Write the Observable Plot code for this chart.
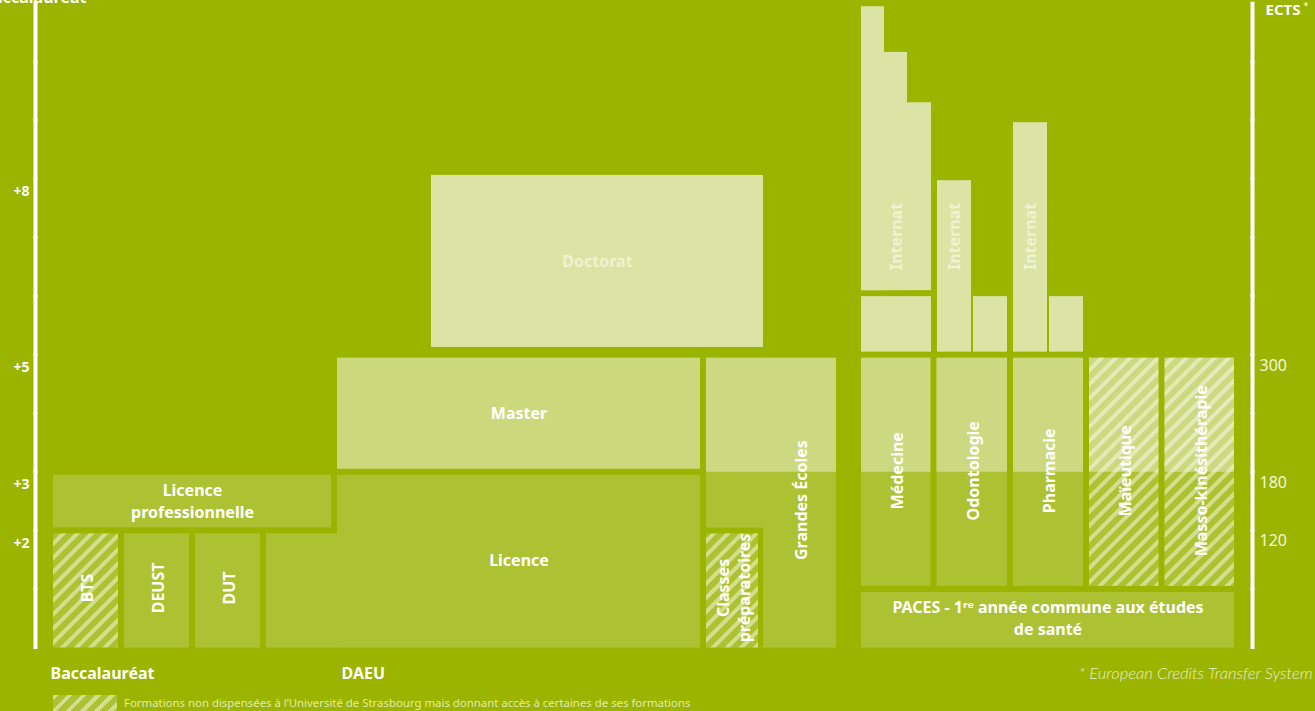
<!DOCTYPE html>
<html>
<head>
<meta charset="utf-8">
<script src="https://cdn.jsdelivr.net/npm/d3@7"></script>
<script src="https://cdn.jsdelivr.net/npm/@observablehq/plot@0.6"></script>
<style>
  html, body { margin: 0; padding: 0; }
  body { background: #9ab400; width: 1315px; height: 711px; overflow: hidden; position: relative; font-family: "Noto Sans", sans-serif; }
  #chart svg { display: block; }
  #legend { position: absolute; left: 53px; top: 695px; display: flex; align-items: center; gap: 7px; color: #e3ebb2; font-size: 11.4px; line-height: 16px; }
  #legend .swatch { width: 64px; height: 16px; flex: none; background: repeating-linear-gradient(135deg, #d3df8c 0 4px, #adc232 4px 10px); }
</style>
</head>
<body>
<div id="chart"></div>
<div id="legend"><span class="swatch"></span><span id="legend-text"></span></div>
<script>
// ---------------- data ----------------
// vertical scale: years after the baccalauréat; horizontal: layout units across the diagram
const yearSteps = [0, 1, 2, 3, 4, 5, 6, 7, 8, 9, 10];
const bacTicks = [8, 5, 3, 2];
const bacTickLabels = ["+8", "+5", "+3", "+2"];
const ectsTicks = [5, 3, 2];
const ectsTickLabels = ["300", "180", "120"];

// formations (boxes)
const formation = ["BTS", "DEUST", "DUT", "Licence", "Licence", "Licence\nprofessionnelle", "Master", "Doctorat",
  "Grandes Écoles", "PACES - 1ʳᵉ année commune aux études\nde santé", "Médecine", "Odontologie", "Pharmacie", "Maïeutique", "Masso-kinésithérapie"];
const fromX    = [1.5, 8.6, 15.7, 22.8, 29.9, 1.5, 29.9, 39.3, 66.8, 82.3, 82.3, 89.85, 97.5, 105.1, 112.65];
const toX      = [8.6, 15.7, 22.8, 66.8, 66.8, 29.9, 66.8, 73.1, 80.4, 120.2, 89.85, 97.5, 105.1, 112.65, 120.2];
const fromYear = [0, 0, 0, 0, 0, 2, 3, 5.08, 0, 0, 1, 1, 1, 1, 1];
const toYear   = [2, 2, 2, 2, 3, 3, 5, 8.12, 5, 1, 5, 5, 5, 5, 5];
const cycle    = ["L", "L", "L", "L", "L", "L", "M", "D", "L", "L", "L", "L", "L", "L", "L"];
const external = [true, false, false, false, false, false, false, false, false, false, false, false, false, true, true];

// classes préparatoires (inside Grandes Écoles)
const prepaName = "Classes\npréparatoires";
const prepaX = [66.8, 72.6];
const prepaYears = [0, 2];

// health studies: internat and 6th-year boxes
const internatOf   = ["Médecine", "Médecine", "Médecine", "Odontologie", "Pharmacie"];
const internatX1   = [82.3, 82.3, 82.3, 89.9, 97.5];
const internatX2   = [89.7, 87.3, 85.0, 93.7, 101.3];
const internatFrom = [6.05, 6.05, 6.05, 5, 5];
const internatTo   = [9.36, 10.22, 11.0, 8.03, 9.02];
const sixthOf   = ["Médecine", "Odontologie", "Pharmacie"];
const sixthX1   = [82.5, 93.7, 101.3];
const sixthX2   = [89.9, 97.5, 105.1];
const sixthFrom = [5, 5, 5];
const sixthTo   = [6.05, 6.05, 6.05];
const internatLabelYear = 7;

const masterStart = 3;
const entryLabels = ["Baccalauréat", "DAEU"];
const entryX = [1.5, 30.6];
const footnote = "* European Credits Transfer System";
const legendText = "Formations non dispensées à l’Université de Strasbourg mais donnant accès à certaines de ses formations";

// ---------------- styles ----------------
const bg = "#9ab400";
const tone = {L: "#adc232", M: "#cbd97c", D: "#dbe4a5"};
const paleText = "#eef3d2";
const hatch = "url(#hatch)";

const boxes = formation.map((name, i) => ({name, x1: fromX[i], x2: toX[i], y1: fromYear[i], y2: toYear[i], cycle: cycle[i], external: external[i]}));
const prepa = {name: prepaName, x1: prepaX[0], x2: prepaX[1], y1: prepaYears[0], y2: prepaYears[1]};
const internat = internatOf.map((f, i) => ({f, x1: internatX1[i], x2: internatX2[i], y1: internatFrom[i], y2: internatTo[i]}));
const sixth = sixthOf.map((f, i) => ({f, x1: sixthX1[i], x2: sixthX2[i], y1: sixthFrom[i], y2: sixthTo[i]}));

const boxFill = d => d.external ? hatch : tone[d.cycle];
const isLast = (d, i, arr) => arr.findLastIndex(e => e.name === d.name) === i;
const ge = boxes.find(d => d.name === "Grandes Écoles");

const labels = boxes.filter(isLast).map(d => ({
  text: d.name,
  x: d === ge ? (prepa.x2 + d.x2) / 2 : (d.x1 + d.x2) / 2,
  y: (d.y1 + d.y2) / 2,
  rotate: (d.x2 - d.x1) < 15 ? -90 : 0,
  fill: d.cycle === "D" ? paleText : "white"
}));
labels.push({text: prepa.name, x: (prepa.x1 + prepa.x2) / 2, y: (prepa.y1 + prepa.y2) / 2, rotate: -90, fill: "white"});
const internatLabels = internatOf.filter((f, i, a) => a.indexOf(f) === i).map(f => {
  const d = internat.find(e => e.f === f);
  return {text: "Internat", x: (d.x1 + d.x2) / 2, y: internatLabelYear, rotate: -90, fill: paleText};
});
const allLabels = labels.concat(internatLabels);

const font = "'Noto Sans', sans-serif";

const chart = Plot.plot({
  width: 1315,
  height: 690,
  marginLeft: 35,
  marginRight: 63,
  marginTop: 3.2,
  marginBottom: 42.5,
  x: {domain: [0, 121.7], axis: null},
  y: {domain: [0, 11], axis: null},
  color: {type: "identity"},
  style: {background: "transparent", fontFamily: font, overflow: "visible"},
  marks: [
    // axes lines, segmented per year
    Plot.ruleX(yearSteps, {x: 0, y1: d => d, y2: d => d + 1, stroke: "white", strokeWidth: 4, insetTop: 1.5, insetBottom: 1.5}),
    Plot.ruleX(yearSteps, {x: 121.7, y1: d => d, y2: d => d + 1, stroke: "white", strokeWidth: 4, insetTop: 1.5, insetBottom: 1.5}),
    Plot.text(bacTicks, {x: 0, y: d => d, text: (d, i) => bacTickLabels[i], textAnchor: "end", dx: -6, dy: 12.5, fill: "white", fontWeight: 700, fontSize: 14}),
    Plot.text(ectsTicks, {x: 121.7, y: d => d, text: (d, i) => ectsTickLabels[i], textAnchor: "start", dx: 7, dy: 10.5, fill: "#f3f7dd", fontSize: 16}),
    Plot.text(["ECTS"], {frameAnchor: "top-right", dx: 13, dy: 1, textAnchor: "start", lineAnchor: "top", fill: "white", fontWeight: 700, fontSize: 15}),
    Plot.text(["*"], {frameAnchor: "top-right", dx: 51, dy: -1, textAnchor: "start", lineAnchor: "top", fill: "white", fontSize: 9}),
    Plot.text(["Baccalauréat"], {frameAnchor: "top-left", dx: 51, dy: -0.5, textAnchor: "end", lineAnchor: "bottom", fill: "white", fontWeight: 700, fontSize: 16}),
    // boxes
    Plot.rect(boxes, {filter: d => d.y1 === 0, x1: "x1", x2: "x2", y1: "y1", y2: "y2", fill: boxFill, inset: 3, insetBottom: 0}),
    Plot.rect(boxes, {filter: d => d.y1 > 0, x1: "x1", x2: "x2", y1: "y1", y2: "y2", fill: boxFill, inset: 3}),
    // master-level part of long programmes
    Plot.rect(boxes, {filter: d => d.cycle === "L" && d.y1 < masterStart && d.y2 > masterStart, x1: "x1", x2: "x2", y1: masterStart, y2: "y2", fill: "white", fillOpacity: 0.38, inset: 3, insetBottom: 0}),
    // classes préparatoires inside Grandes Écoles
    Plot.rect([prepa], {x1: "x1", x2: d => d.x2 + 0.5, y1: "y1", y2: d => d.y2 + 0.1, fill: bg, inset: 3, insetBottom: 0}),
    Plot.rect([prepa], {x1: "x1", x2: "x2", y1: "y1", y2: "y2", fill: hatch, inset: 3, insetBottom: 0}),
    // health: internat & 6th year
    Plot.rect(internat, {x1: "x1", x2: "x2", y1: "y1", y2: "y2", fill: tone.D, insetLeft: 3, insetRight: 1, insetTop: 3, insetBottom: 3}),
    Plot.rect(sixth, {x1: "x1", x2: "x2", y1: "y1", y2: "y2", fill: tone.D, insetLeft: 1, insetRight: 3, insetTop: 3, insetBottom: 3}),
    // labels
    Plot.text(allLabels, {x: "x", y: "y", text: "text", rotate: "rotate", fill: "fill", fontWeight: 700, fontSize: 16, lineHeight: 1.35, dy: -1.5}),
    Plot.text(entryLabels, {x: (d, i) => entryX[i], frameAnchor: "bottom", dy: 31, text: d => d, textAnchor: "start", fill: "white", fontWeight: 700, fontSize: 16}),
    Plot.text([footnote], {frameAnchor: "bottom-right", dx: 60, dy: 31, textAnchor: "end", fill: "#eaf0c6", fontStyle: "italic", fontWeight: 300, fontSize: 16.5, fontFamily: "Lato, sans-serif"})
  ]
});

// hatch pattern
const defs = d3.select(chart).insert("defs", ":first-child");
const pat = defs.append("pattern").attr("id", "hatch").attr("patternUnits", "userSpaceOnUse")
  .attr("width", 10).attr("height", 10).attr("patternTransform", "rotate(45)");
pat.append("rect").attr("width", 10).attr("height", 10).attr("fill", tone.L);
pat.append("rect").attr("width", 4).attr("height", 10).attr("fill", "#d3df8c");

document.getElementById("chart").append(chart);
document.getElementById("legend-text").textContent = legendText;
</script>
</body>
</html>
